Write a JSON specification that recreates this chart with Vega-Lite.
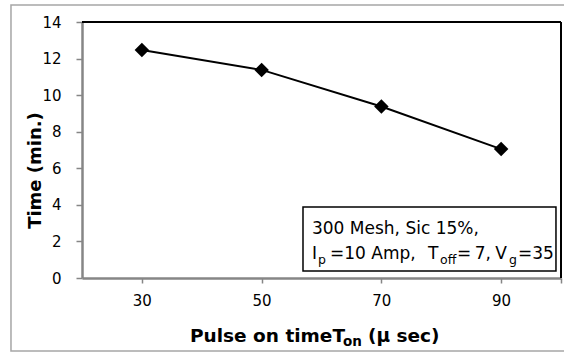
{
  "$schema": "https://vega.github.io/schema/vega-lite/v6.json",
  "autosize": "none",
  "width": 479,
  "height": 256,
  "padding": {"left": 82, "top": 22, "right": 3, "bottom": 74},
  "background": "white",
  "config": {
    "font": "DejaVu Sans",
    "view": {"stroke": null},
    "text": {"align": "left", "baseline": "alphabetic", "color": "black", "font": "DejaVu Sans", "fontSize": 17},
    "axis": {
      "domainColor": "#868686",
      "domainWidth": 2.5,
      "tickColor": "#868686",
      "tickWidth": 1.5,
      "grid": false,
      "labelFont": "DejaVu Sans",
      "labelFontSize": 15,
      "labelColor": "black"
    }
  },
  "layer": [
    {
      "description": "series line and diamond markers",
      "data": {
        "values": [
          {"pulse_on": 30, "time": 12.47},
          {"pulse_on": 50, "time": 11.38},
          {"pulse_on": 70, "time": 9.38},
          {"pulse_on": 90, "time": 7.05}
        ]
      },
      "encoding": {
        "x": {
          "field": "pulse_on",
          "type": "quantitative",
          "scale": {"domain": [20, 100], "nice": false, "zero": false},
          "axis": {
            "title": null,
            "values": [30, 50, 70, 90, 100],
            "labelExpr": "datum.value == 100 ? '' : datum.label",
            "tickSize": 5,
            "labelPadding": 10,
            "labelOverlap": false,
            "labelFlush": false
          }
        },
        "y": {
          "field": "time",
          "type": "quantitative",
          "scale": {"domain": [0, 14], "nice": false},
          "axis": {
            "title": "Time (min.)",
            "values": [0, 2, 4, 6, 8, 10, 12, 14],
            "tickCount": 8,
            "tickSize": 6,
            "labelPadding": 15,
            "labelOverlap": false,
            "labelFlush": false,
            "titleFont": "DejaVu Sans",
            "titleFontSize": 18,
            "titleFontWeight": "bold",
            "titleColor": "black",
            "titleAngle": -90,
            "titleAlign": "center",
            "titleBaseline": "alphabetic",
            "titleX": -42,
            "titleY": 148
          }
        }
      },
      "layer": [
        {"mark": {"type": "line", "color": "black", "strokeWidth": 2}},
        {"mark": {"type": "point", "shape": "diamond", "filled": true, "color": "black", "size": 210, "opacity": 1}}
      ]
    },
    {
      "description": "plot area border on the top and right sides",
      "data": {"values": [{}]},
      "layer": [
        {
          "mark": {"type": "rule", "color": "black", "strokeWidth": 2},
          "encoding": {
            "x": {"datum": 20, "type": "quantitative"},
            "x2": {"datum": 100},
            "y": {"datum": 14, "type": "quantitative"}
          }
        },
        {
          "mark": {"type": "rule", "color": "black", "strokeWidth": 2},
          "encoding": {
            "x": {"datum": 100, "type": "quantitative"},
            "y": {"datum": 0, "type": "quantitative"},
            "y2": {"datum": 14}
          }
        }
      ]
    },
    {
      "description": "outer chart frame",
      "data": {"values": [{}]},
      "mark": {"type": "rect", "fill": null, "stroke": "#a6a6a6", "strokeWidth": 1.5, "clip": false},
      "encoding": {
        "x": {"datum": 8.14, "type": "quantitative"},
        "x2": {"datum": 105},
        "y": {"datum": 14.93, "type": "quantitative"},
        "y2": {"datum": -3.99}
      }
    },
    {
      "description": "annotation box",
      "data": {"values": [{}]},
      "mark": {"type": "rect", "fill": "white", "stroke": "black", "strokeWidth": 1.5},
      "encoding": {
        "x": {"datum": 56.91, "type": "quantitative"},
        "x2": {"datum": 99.16},
        "y": {"datum": 3.88, "type": "quantitative"},
        "y2": {"datum": 0.38}
      }
    },
    {
      "description": "annotation text and x axis title, pieced together for subscripts",
      "data": {"values": [{}]},
      "layer": [
        {"mark": {"type": "text"}, "encoding": {"x": {"datum": 58.41, "type": "quantitative"}, "y": {"datum": 2.41, "type": "quantitative"}, "text": {"value": "300 Mesh, Sic 15%,"}}},
        {"mark": {"type": "text"}, "encoding": {"x": {"datum": 58.41, "type": "quantitative"}, "y": {"datum": 1.04, "type": "quantitative"}, "text": {"value": "I"}}},
        {"mark": {"type": "text"}, "encoding": {"x": {"datum": 61.42, "type": "quantitative"}, "y": {"datum": 1.04, "type": "quantitative"}, "text": {"value": "=10 Amp,"}}},
        {"mark": {"type": "text"}, "encoding": {"x": {"datum": 77.79, "type": "quantitative"}, "y": {"datum": 1.04, "type": "quantitative"}, "text": {"value": "T"}}},
        {"mark": {"type": "text"}, "encoding": {"x": {"datum": 82.63, "type": "quantitative"}, "y": {"datum": 1.04, "type": "quantitative"}, "text": {"value": "=\u20097,"}}},
        {"mark": {"type": "text"}, "encoding": {"x": {"datum": 89.0, "type": "quantitative"}, "y": {"datum": 1.04, "type": "quantitative"}, "text": {"value": "V"}}},
        {"mark": {"type": "text"}, "encoding": {"x": {"datum": 92.82, "type": "quantitative"}, "y": {"datum": 1.04, "type": "quantitative"}, "text": {"value": "=35"}}},
        {"mark": {"type": "text", "fontSize": 12.5}, "encoding": {"x": {"datum": 59.41, "type": "quantitative"}, "y": {"datum": 0.77, "type": "quantitative"}, "text": {"value": "p"}}},
        {"mark": {"type": "text", "fontSize": 12.5}, "encoding": {"x": {"datum": 79.79, "type": "quantitative"}, "y": {"datum": 0.77, "type": "quantitative"}, "text": {"value": "off"}}},
        {"mark": {"type": "text", "fontSize": 12.5}, "encoding": {"x": {"datum": 91.3, "type": "quantitative"}, "y": {"datum": 0.77, "type": "quantitative"}, "text": {"value": "g"}}},
        {"mark": {"type": "text", "fontWeight": "bold", "fontSize": 18.5, "clip": false}, "encoding": {"x": {"datum": 38.04, "type": "quantitative"}, "y": {"datum": -3.5, "type": "quantitative"}, "text": {"value": "Pulse on timeT"}}},
        {"mark": {"type": "text", "fontWeight": "bold", "fontSize": 13.5, "clip": false}, "encoding": {"x": {"datum": 63.59, "type": "quantitative"}, "y": {"datum": -3.72, "type": "quantitative"}, "text": {"value": "on"}}},
        {"mark": {"type": "text", "fontWeight": "bold", "fontSize": 18.5, "clip": false}, "encoding": {"x": {"datum": 67.77, "type": "quantitative"}, "y": {"datum": -3.5, "type": "quantitative"}, "text": {"value": "(μ sec)"}}}
      ]
    }
  ]
}
